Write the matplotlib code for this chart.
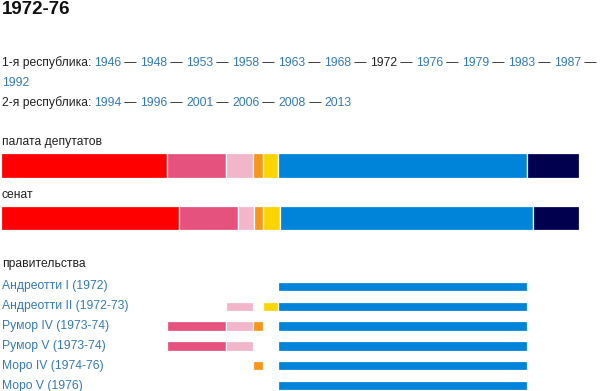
import matplotlib
matplotlib.use("Agg")
import numpy as np
import matplotlib.pyplot as plt
from matplotlib.transforms import blended_transform_factory

# -----------------------------
# DATA
# -----------------------------
title = "1972-76"
first_rep_years = [1946, 1948, 1953, 1958, 1963, 1968, 1972, 1976, 1979, 1983, 1987]
first_rep_wrap = [1992]
second_rep_years = [1994, 1996, 2001, 2006, 2008, 2013]
current_year = 1972

party_colors = ["#ff0000", "#e6527e", "#f2b5c9", "#f7961c", "#fbd500", "#0084d9", "#00004f"]
chamber_seats = [181, 64, 30, 11, 16, 271, 57]
senate_seats = [97, 32, 9, 5, 9, 138, 25]

gov_names = [
    "Андреотти I (1972)",
    "Андреотти II (1972-73)",
    "Румор IV (1973-74)",
    "Румор V (1973-74)",
    "Моро IV (1974-76)",
    "Моро V (1976)",
]
# which chamber parties sit in each government (1 = in coalition)
gov_members = [
    [0, 0, 0, 0, 0, 1, 0],
    [0, 0, 1, 0, 1, 1, 0],
    [0, 1, 1, 1, 0, 1, 0],
    [0, 1, 1, 0, 0, 1, 0],
    [0, 0, 0, 1, 0, 1, 0],
    [0, 0, 0, 0, 0, 1, 0],
]

# -----------------------------
# CONFIG
# -----------------------------
W, H = 600, 391
TEXT = "#222222"
LINK = "#337ab7"
FONT = "Liberation Sans"
FS = 8.75

plt.rcParams["font.family"] = [FONT, "DejaVu Sans"]

fig = plt.figure(figsize=(W / 100, H / 100), dpi=100)
renderer = fig.canvas.get_renderer()


def put(x, y, s, color=TEXT, **kw):
    """place text at pixel coords (from top-left), return right edge in px"""
    t = fig.text(x / W, 1 - y / H, s, color=color, fontsize=kw.pop("fontsize", FS),
                 va="center", ha="left", **kw)
    return t.get_window_extent(renderer).x1


def year_line(x, y, years, trailing=False):
    for i, yr in enumerate(years):
        col = TEXT if yr == current_year else LINK
        x = put(x, y, str(yr), col)
        if i < len(years) - 1:
            x = put(x, y, " \u2014 ")
        elif trailing:
            x = put(x, y, " \u2014")
    return x


def bar_axes(top, bottom):
    return fig.add_axes([1 / W, 1 - bottom / H, 578 / W, (bottom - top) / H])


# -----------------------------
# HEADER
# -----------------------------
put(1.5, 9.5, title, color="#111111", fontsize=13.5, fontweight="bold")

x = put(2, 62.5, "1-я республика: ")
year_line(x - 1, 62.5, first_rep_years, trailing=True)
year_line(2, 82.5, first_rep_wrap)
x = put(2, 102.5, "2-я республика: ")
year_line(x - 1, 102.5, second_rep_years)

# -----------------------------
# PARLIAMENT BARS
# -----------------------------
for label, seats, ly, top, bot in [
    ("палата депутатов", chamber_seats, 142, 153, 177.5),
    ("сенат", senate_seats, 195.5, 206, 230),
]:
    put(2, ly, label)
    ax = bar_axes(top, bot)
    lefts = np.concatenate([[0], np.cumsum(seats)[:-1]])
    ax.barh(0.5, seats, left=lefts, height=1, color=party_colors,
            edgecolor="white", linewidth=0.9)
    ax.set_xlim(0, sum(seats))
    ax.set_ylim(0, 1)
    ax.axis("off")

# -----------------------------
# GOVERNMENTS
# -----------------------------
put(2, 264.5, "правительства")

row0, step = 286.5, 19.8
top = row0 - step / 2
gax = bar_axes(top, H)
n_vis = (H - top) / step
lefts = np.concatenate([[0], np.cumsum(chamber_seats)[:-1]])
for i, members in enumerate(gov_members):
    for j, m in enumerate(members):
        if m:
            gax.barh(i, chamber_seats[j], left=lefts[j], height=0.48,
                     color=party_colors[j], edgecolor="white", linewidth=0.9)
gax.set_xlim(0, sum(chamber_seats))
gax.set_ylim(n_vis - 0.5, -0.5)
gax.axis("off")

trans = blended_transform_factory(fig.transFigure, gax.transData)
for i, name in enumerate(gov_names):
    gax.text(1.5 / W, i, name, color=LINK, fontsize=FS, va="center",
             ha="left", transform=trans, clip_on=False)

fig.savefig("out.png", dpi=100)
